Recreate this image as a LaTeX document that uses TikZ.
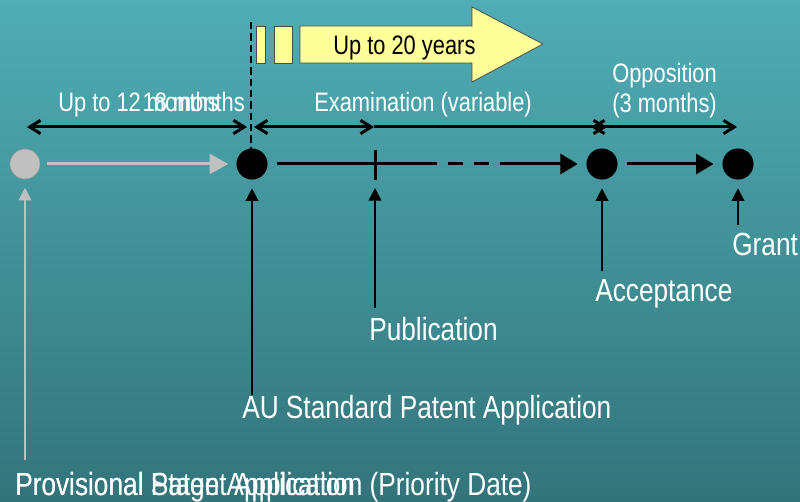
\documentclass[tikz,border=0pt]{standalone}
\usepackage{fontspec}
\setmainfont{Liberation Sans}[FakeStretch=0.82]
\usetikzlibrary{arrows.meta}
\definecolor{bgtop}{RGB}{80,173,181}
\definecolor{bgbot}{RGB}{51,116,122}
\definecolor{yel}{RGB}{255,255,153}
\definecolor{greyc}{RGB}{192,192,192}
\definecolor{greyd}{RGB}{150,150,150}
\begin{document}
\begin{tikzpicture}[x=0.75pt,y=-0.75pt,
  lbl/.style={text=white,font=\fontsize{24}{28}\selectfont,inner sep=0pt,anchor=base west},
  toplbl/.style={text=white,font=\fontsize{20}{24}\selectfont,inner sep=0pt,anchor=base west},
  dot/.style={circle,fill=black,minimum size=23.3pt,inner sep=0pt},
  gdot/.style={circle,fill=greyc,draw=greyd,line width=0.4pt,minimum size=22.5pt,inner sep=0pt},
  upar/.style={line width=1.5pt,-{Triangle[length=9.5pt,width=9.5pt]},shorten >=6.4pt},
  hline/.style={line width=2.25pt},
  hhead/.style={-{Triangle[length=13pt,width=15pt]}},
  span/.style={line width=2.25pt},
  barb/.tip={Straight Barb[length=8pt,width=10pt]}
]
\shade[top color=bgtop,bottom color=bgbot] (0,0) rectangle (800,502);
\useasboundingbox (0,0) rectangle (800,502);

% yellow 20-year arrow
\draw[fill=yel,draw=black!70,line width=0.6pt] (256,26) rectangle (265,63);
\draw[fill=yel,draw=black!70,line width=0.6pt] (274,26) rectangle (292,63);
\draw[fill=yel,draw=black!70,line width=0.6pt] (300,26) -- (472,26) -- (472,7) -- (543,44) -- (472,82) -- (472,63) -- (300,63) -- cycle;
\node[anchor=base west,inner sep=0pt,font=\fontsize{20}{24}\selectfont,text=black] (yrs) at (333,55) {Up to 20 years};

% priority dashed line
\coordinate (vtop) at (251,22);
\coordinate (vbot) at (251,150);
\draw[line width=1.5pt,dash pattern=on 5.5pt off 3pt] (vtop) -- (vbot);

% timeline dots
\node[gdot] (c0) at (25,164) {};
\node[dot] (c1) at (252,164) {};
\node[dot] (c2) at (602,164) {};
\node[dot] (c3) at (738,164) {};

% horizontal connectors
\draw[line width=2.25pt,draw=greyc,-{Triangle[length=14pt,width=15pt]},shorten <=5pt,shorten >=6pt] (c0) -- (c1);
\coordinate (d1) at (422,164);
\coordinate (d2) at (503,164);
\draw[hline,shorten <=7pt] (c1) -- (d1);
\draw[line width=2.25pt,dash pattern=on 11pt off 8.5pt] (d1) -- (d2);
\draw[hline,hhead,shorten >=6.4pt] (d2) -- (c2);
\draw[hline,hhead,shorten <=6.8pt,shorten >=6.5pt] (c2) -- (c3);

% publication tick
\coordinate (tT) at (375,150);
\coordinate (tB) at (375,180);
\draw[line width=2.25pt] (tT) -- (tB);

% span arrows
\coordinate (s1a) at (27,127);
\coordinate (s1b) at (247,127);
\coordinate (s2a) at (254,127);
\coordinate (s2m) at (374,127);
\coordinate (s2b) at (607,127);
\coordinate (s3a) at (591,127);
\coordinate (s3b) at (737,127);
\draw[span,{barb}-{barb}] (s1a) -- (s1b);
\draw[span,{barb}-{barb}] (s2a) -- (s2m);
\draw[span,-{barb}] (s2m) -- (s2b);
\draw[span,{barb}-{barb}] (s3a) -- (s3b);

% span labels
\node[toplbl] (l12) at (58,112) {Up to 12 months};
\node[toplbl,anchor=base east] (l18) at (245,112) {18 months};
\node[toplbl] (lex) at (314,112) {Examination (variable)};
\node[toplbl] (lop) at (612,83) {Opposition};
\node[toplbl] (lop3) at (612,113) {(3 months)};

% event labels
\node[lbl] (grant) at (732,256) {Grant};
\node[lbl] (acc) at (595,302) {Acceptance};
\node[lbl] (pub) at (369,341) {Publication};
\node[lbl] (au) at (242,418) {AU Standard Patent Application};
\node[lbl] (prov) at (15,495) {Provisional Patent Application (Priority Date)};
\node[lbl] (prov2) at (15,495) {Provisional Stage Application};

% vertical arrows
\coordinate (g0) at (25,460);
\coordinate (g1) at (252,395);
\coordinate (g2) at (375,308);
\coordinate (g3) at (602,271);
\coordinate (g4) at (738,225);
\draw[upar,draw=greyc,-{Triangle[length=9.5pt,width=9.5pt]}] (g0) -- (c0);
\draw[upar] (g1) -- (c1);
\draw[upar,shorten >=6pt] (g2) -- (tB);
\draw[upar] (g3) -- (c2);
\draw[upar] (g4) -- (c3);
\end{tikzpicture}
\end{document}
